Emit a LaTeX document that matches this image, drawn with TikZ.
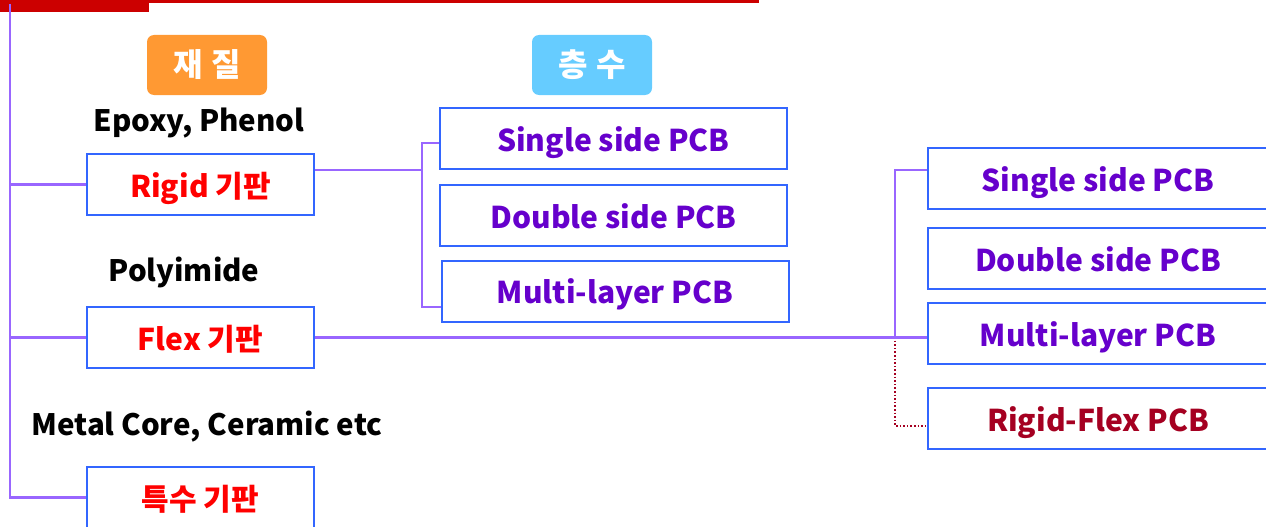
\documentclass[tikz,border=0pt]{standalone}
\usepackage{fontspec}
\setmainfont{Noto Sans CJK KR}
\usetikzlibrary{calc}
\definecolor{redbar}{HTML}{CC0000}
\definecolor{linepur}{HTML}{9966FF}
\definecolor{boxblue}{HTML}{3366FF}
\definecolor{txtpur}{HTML}{6600CC}
\definecolor{txtred}{HTML}{FF0000}
\definecolor{txtdred}{HTML}{A50021}
\definecolor{lblorange}{HTML}{FF9933}
\definecolor{lblblue}{HTML}{66CCFF}
\tikzset{
  pbox/.style={draw=boxblue, line width=2pt, fill=white, inner sep=0pt, text height=25pt, text depth=0pt, font=\bfseries\fontsize{30}{34}\selectfont},
  lbox/.style={pbox, minimum width=227pt, minimum height=61pt, text=txtred},
  mbox/.style={pbox, minimum width=347pt, minimum height=61pt, text=txtpur},
  rbox/.style={pbox, minimum width=340pt, minimum height=61pt, text=txtpur},
  cat/.style={rounded corners=7pt, minimum width=120pt, minimum height=60pt, text=white, inner sep=0pt, font=\bfseries\fontsize{32}{36}\selectfont},
  note/.style={font=\bfseries\fontsize{29.5}{33}\selectfont, text=black, inner sep=0pt},
  conn/.style={draw=linepur, line width=2.4pt},
  dconn/.style={draw=txtdred, line width=1.6pt, dotted}
}
\begin{document}
\begin{tikzpicture}[x=1pt,y=-1pt]
\useasboundingbox (0,0) rectangle (1266,527);
% top red bars
\fill[redbar] (0,0) rectangle (149,12);
\fill[redbar] (149,0) rectangle (759,3);
% category labels
\node[cat, fill=lblorange] (mat) at (207,65) {재\hspace{8pt}질};
\node[cat, fill=lblblue] (lay) at (592,65) {층\hspace{8pt}수};
% notes
\node[note] (n1) at (199,123) {Epoxy, Phenol};
\node[note] (n2) at (184,272) {Polyimide};
\node[note] (n3) at (207,427) {Metal Core, Ceramic etc};
% left boxes
\node[lbox] (rigid) at (200.5,184.5) {Rigid 기판};
\node[lbox] (flex) at (200.5,337.5) {Flex 기판};
\node[lbox] (spec) at (200.5,497.5) {특수 기판};
% middle boxes
\node[mbox] (m1) at (613.5,138.5) {Single side PCB};
\node[mbox] (m2) at (613.5,215.5) {Double side PCB};
\node[mbox] (m3) at (615,291) {Multi-layer PCB};
% right boxes
\node[rbox] (r1) at (1098,178.5) {Single side PCB};
\node[rbox] (r2) at (1098,258.5) {Double side PCB};
\node[rbox] (r3) at (1098,333.5) {Multi-layer PCB};
\node[rbox, text=txtdred] (r4) at (1098,418.5) {Rigid-Flex PCB};
% trunk
\coordinate (top) at (10,4);
\draw[conn] (top) |- (spec.west);
\draw[conn] (top |- rigid.west) -- (rigid.west);
\draw[conn] (top |- flex.west) -- (flex.west);
% rigid bracket
\coordinate (mj) at (422,170);
\draw[conn] ([yshift=14.5pt]rigid.east) -- (mj);
\draw[conn] ([yshift=-4.5pt]m1.west) -| (mj) |- ([yshift=-16pt]m3.west);
% flex line
\coordinate (fj) at (895,337);
\draw[dconn] (fj) |- ([yshift=-7.5pt]r4.west);
\draw[conn] (flex.east) -- (flex.east -| r3.west);
\draw[conn] (fj) |- ([yshift=8.5pt]r1.west);
\end{tikzpicture}
\end{document}
